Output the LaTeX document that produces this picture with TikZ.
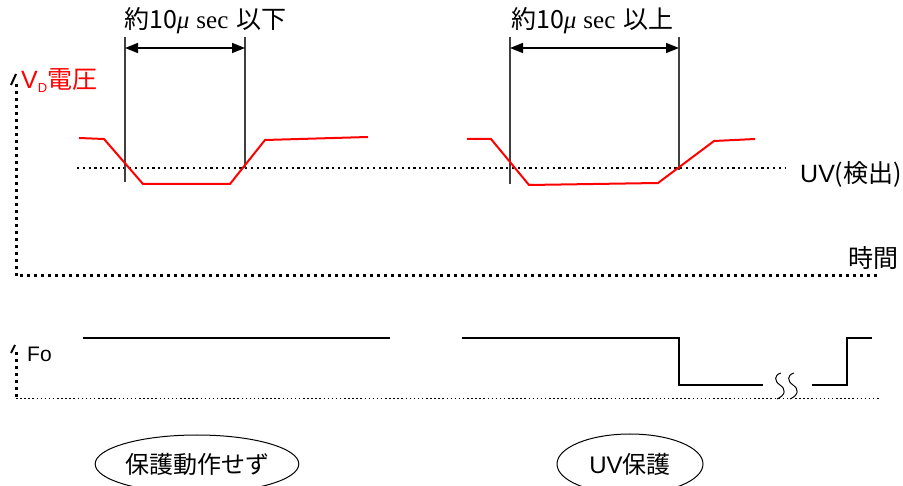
\documentclass[tikz,border=0pt]{standalone}
\usepackage{fontspec}
\setmainfont{Liberation Sans}
\newfontfamily\jp{Noto Sans CJK JP}
\newfontfamily\tms{Liberation Serif}
\usetikzlibrary{arrows.meta,shapes.geometric}
\begin{document}
\begin{tikzpicture}[x=1pt,y=-1pt,
  axisdot/.style={line width=3pt, dash pattern=on 3pt off 4pt},
  uvdot/.style={line width=2pt, dash pattern=on 2.2pt off 3.6pt},
  finedot/.style={line width=1pt, dash pattern=on 1.5pt off 2.6pt},
  redwave/.style={red, line width=2pt, line join=miter},
  fowave/.style={black, line width=1.6pt},
  marker/.style={black!75, line width=1.4pt},
  dimarrow/.style={line width=1.5pt, {Triangle[length=13pt,width=10pt]}-{Triangle[length=13pt,width=10pt]}},
  lbl/.style={inner sep=0pt, font=\fontsize{25}{28}\selectfont},
  oval/.style={draw, ellipse, line width=1pt, inner sep=0pt, font=\fontsize{24}{28}\selectfont\jp}
]
\useasboundingbox (0,0) rectangle (903,486);

% ---- upper axes
\coordinate (vtop) at (16,84);
\coordinate (vorg) at (16,276);
\coordinate (vend) at (880,276);
\draw[axisdot] (vtop) -- (vorg) -- (vend);
\draw[line width=2pt] (11,85) -- (16,74);

\node[lbl, anchor=base west, red] (vd) at (21,89) {V\raisebox{-4pt}{\fontsize{13}{13}\selectfont D}{\jp 電圧}};
\node[lbl, anchor=west] (uv) at (800,174) {UV{\jp (検出)}};
\node[lbl, anchor=east] (jikan) at (899,258) {\jp 時間};

% UV level
\coordinate (uvl) at (77,168);
\coordinate (uvr) at (785,168);
\draw[uvdot] (uvl) -- (uvr);

% markers
\coordinate (m1t) at (125,37); \coordinate (m1b) at (125,182);
\coordinate (m2t) at (245,37); \coordinate (m2b) at (245,168);
\coordinate (m3t) at (510,37); \coordinate (m3b) at (510,184);
\coordinate (m4t) at (679,37); \coordinate (m4b) at (679,170);
\draw[marker] (m1t) -- (m1b);
\draw[marker] (m2t) -- (m2b);
\draw[marker] (m3t) -- (m3b);
\draw[marker] (m4t) -- (m4b);
\coordinate (a1l) at (125,48); \coordinate (a1r) at (245,48);
\coordinate (a2l) at (510,48); \coordinate (a2r) at (679,48);
\draw[dimarrow] (a1l) -- (a1r);
\draw[dimarrow] (a2l) -- (a2r);

\node[lbl, anchor=base west] (t1) at (124,29) {{\jp 約10}{\tms\itshape μ} {\tms sec}\,\,{\jp 以下}};
\node[lbl, anchor=base west] (t2) at (511,29) {{\jp 約10}{\tms\itshape μ} {\tms sec}\,\,{\jp 以上}};

% waveforms
\draw[redwave] (79,138) -- (104,139) -- (143,184) -- (230,184) -- (265,140) -- (368,137);
\draw[redwave] (467,139) -- (491,139) -- (529,185) -- (658,183) -- (714,141) -- (755,139);

% ---- lower axes
\coordinate (ftop) at (16,352);
\coordinate (forg) at (16,399);
\coordinate (fend) at (880,399);
\draw[axisdot] (ftop) -- (forg);
\draw[finedot] (forg) -- (fend);
\draw[line width=2pt] (11,353) -- (15,345);
\node[lbl, anchor=base west, font=\fontsize{21}{24}\selectfont] (fo) at (27,362) {Fo};

\draw[fowave] (83,338) -- (390,338);
\draw[fowave] (462,338) -- (679,338) -- (679,385) -- (763,385);
\draw[fowave] (812,385) -- (847,385) -- (847,338) -- (872,338);
\draw[line width=1pt] (781,373) .. controls (774,375) and (774,381) .. (780,385) .. controls (786,389) and (786,395) .. (777,399);
\draw[line width=1pt] (794,373) .. controls (787,375) and (787,381) .. (793,385) .. controls (799,389) and (799,395) .. (790,399);

% ovals
\node[oval, minimum width=192pt, minimum height=58pt] (e1) at (197,464) {保護動作せず};
\node[oval, minimum width=146pt, minimum height=60pt] (e2) at (630,464) {{\fontspec{Liberation Sans}UV}保護};
\end{tikzpicture}
\end{document}
